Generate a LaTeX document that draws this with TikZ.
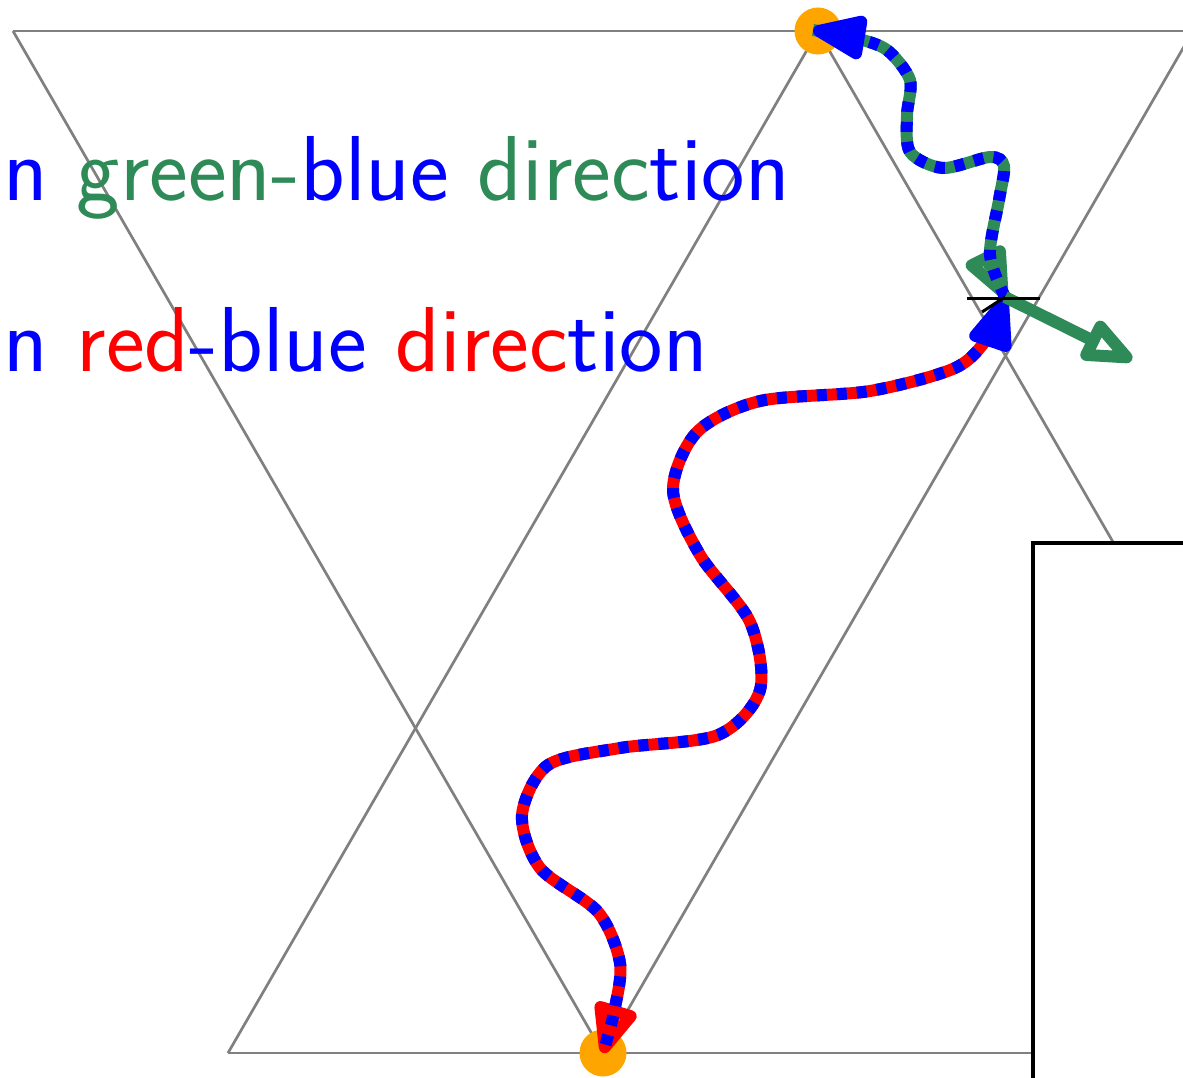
\documentclass[tikz,border=0pt]{standalone}
\usetikzlibrary{arrows.meta}
\definecolor{seagreen}{RGB}{46,139,87}
\definecolor{dotorange}{RGB}{255,165,0}
\begin{document}
\begin{tikzpicture}[x=1pt,y=-1pt,
  lattice/.style={draw=gray, line width=2.7pt},
  dotstyle/.style={fill=dotorange},
  basecurve/.style={line width=12pt, line cap=butt},
  dashcurve/.style={line width=12pt, blue, dash pattern=on 10pt off 10pt},
  label/.style={anchor=base west, inner sep=0pt, font=\sffamily\fontsize{92.3}{100}\selectfont}]
\useasboundingbox (0,0) rectangle (1183,1078);
\clip (0,0) rectangle (1183,1078);
% lattice vertices
\coordinate (A1) at (13,31);
\coordinate (A2) at (818,31);
\coordinate (A3) at (1193,31);
\coordinate (A4) at (1260,31);
\coordinate (B1) at (228,1053);
\coordinate (B2) at (603,1053);
\coordinate (B3) at (1408,1053);
\coordinate (B4) at (1100,1053);
\draw[lattice] (A1) -- (A4);
\draw[lattice] (B1) -- (B4);
\draw[lattice] (A1) -- (B2);
\draw[lattice] (A2) -- (B1);
\draw[lattice] (A2) -- (B3);
\draw[lattice] (A3) -- (B2);
% box
\node[draw=black, fill=white, line width=3.5pt, anchor=north west, minimum width=300pt, minimum height=600pt, inner sep=0pt] (box) at (1031,541) {};
% labels
\node[label] (t1) at (3,201) {\textcolor{blue}{n} \textcolor{seagreen}{green-}\textcolor{blue}{blue} \textcolor{seagreen}{direc}\textcolor{blue}{tion}};
\node[label] (t2) at (3,371) {\textcolor{blue}{n} \textcolor{red}{red}\textcolor{blue}{-blue} \textcolor{red}{direc}\textcolor{blue}{tion}};
% dots
\fill[dotstyle] (A2) circle (23.5pt);
\fill[dotstyle] (B2) circle (23.5pt);
\coordinate (P) at (1005,297);
\coordinate (G) at (1132,360);
\coordinate (T) at (813,30);
% red-blue curve
\draw[basecurve, red, -{Triangle[open, length=60pt, width=46pt, round]}] plot[smooth] coordinates {(P) (988,337) (955,368) (870,391) (760,401) (697,432) (673,490) (700,555) (750,622) (760,690) (718,735) (620,748) (548,765) (522,815) (540,868) (598,912) (620,963) (614,1012) (B2)};
\draw[dashcurve, {Triangle[length=64pt, width=46pt, round]}-] plot[smooth] coordinates {(P) (988,337) (955,368) (870,391) (760,401) (697,432) (673,490) (700,555) (750,622) (760,690) (718,735) (620,748) (548,765) (522,815) (540,868) (598,912) (620,963) (614,1012) (B2)};
% green-blue curve
\draw[basecurve, seagreen, {Triangle[open, length=60pt, width=46pt, round]}-] plot[smooth] coordinates {(P) (990,255) (999,200) (1004,166) (990,157) (943,168) (910,152) (907,115) (910,80) (887,50) (855,38) (T)};
\draw[dashcurve, -{Triangle[length=64pt, width=46pt, round]}] plot[smooth] coordinates {(P) (990,255) (999,200) (1004,166) (990,157) (943,168) (910,152) (907,115) (910,80) (887,50) (855,38) (T)};
% green arrow
\draw[line width=12pt, seagreen, -{Triangle[open, length=60pt, width=46pt, round]}] (P) -- (G);
% black marks
\coordinate (H1) at (967,298);
\coordinate (H2) at (1040,298);
\coordinate (S) at (982,312);
\draw[black, line width=3pt] (H1) -- (H2);
\draw[black, line width=3pt] (P) -- (S);
\end{tikzpicture}
\end{document}
